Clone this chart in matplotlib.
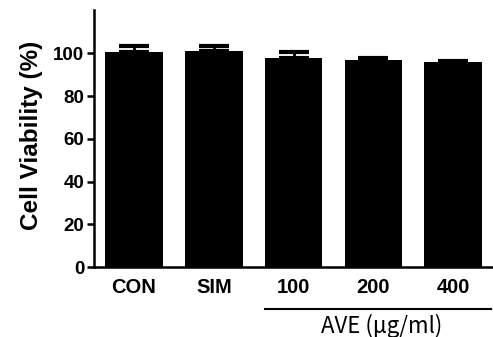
import matplotlib
matplotlib.use('Agg')
import matplotlib.pyplot as plt
import numpy as np

plt.rcParams['font.family'] = ['Liberation Sans', 'DejaVu Sans']

groups = ['CON', 'SIM', '100', '200', '400']
viability = [100.6, 100.9, 97.6, 97.0, 96.1]
errors = [2.8, 2.4, 3.2, 0.9, 0.4]

fig = plt.figure(figsize=(4.93, 3.37), dpi=100)
ax = fig.add_axes([0.191, 0.207, 0.809, 0.762])

x = np.arange(len(groups))
ax.bar(x, viability, width=0.72, color='black')
ax.errorbar(x, viability, yerr=[np.zeros(len(errors)), errors], fmt='none',
            ecolor='black', elinewidth=2, capsize=11, capthick=3)

ax.set_xlim(-0.5, 4.5)
ax.set_ylim(0, 120)
ax.set_yticks([0, 20, 40, 60, 80, 100])
ax.set_xticks(x)
ax.set_xticklabels(groups)
for lbl in ax.get_xticklabels():
    lbl.set_fontweight('bold')
    lbl.set_fontsize(14.5)
for lbl in ax.get_yticklabels():
    lbl.set_fontweight('bold')
    lbl.set_fontsize(13.5)

ax.spines['top'].set_visible(False)
ax.spines['right'].set_visible(False)
ax.spines['left'].set_linewidth(1.8)
ax.spines['bottom'].set_linewidth(1.8)
ax.tick_params(axis='y', length=5, width=1.8, pad=2)
ax.tick_params(axis='x', length=0, pad=8)

ax.set_ylabel('Cell Viability (%)', fontsize=17.5, fontweight='bold')
ax.yaxis.set_label_coords(-0.128, 0.515)

# bracket under the AVE doses
ax.plot([1.64, 4.47], [-19.5, -19.5], color='black', lw=1.5, clip_on=False)
ax.text(3.1, -27.5, 'AVE (μg/ml)', ha='center', va='center', fontsize=16,
        family=['Noto Sans CJK KR', 'DejaVu Sans'])

plt.savefig('out.png', dpi=100)
